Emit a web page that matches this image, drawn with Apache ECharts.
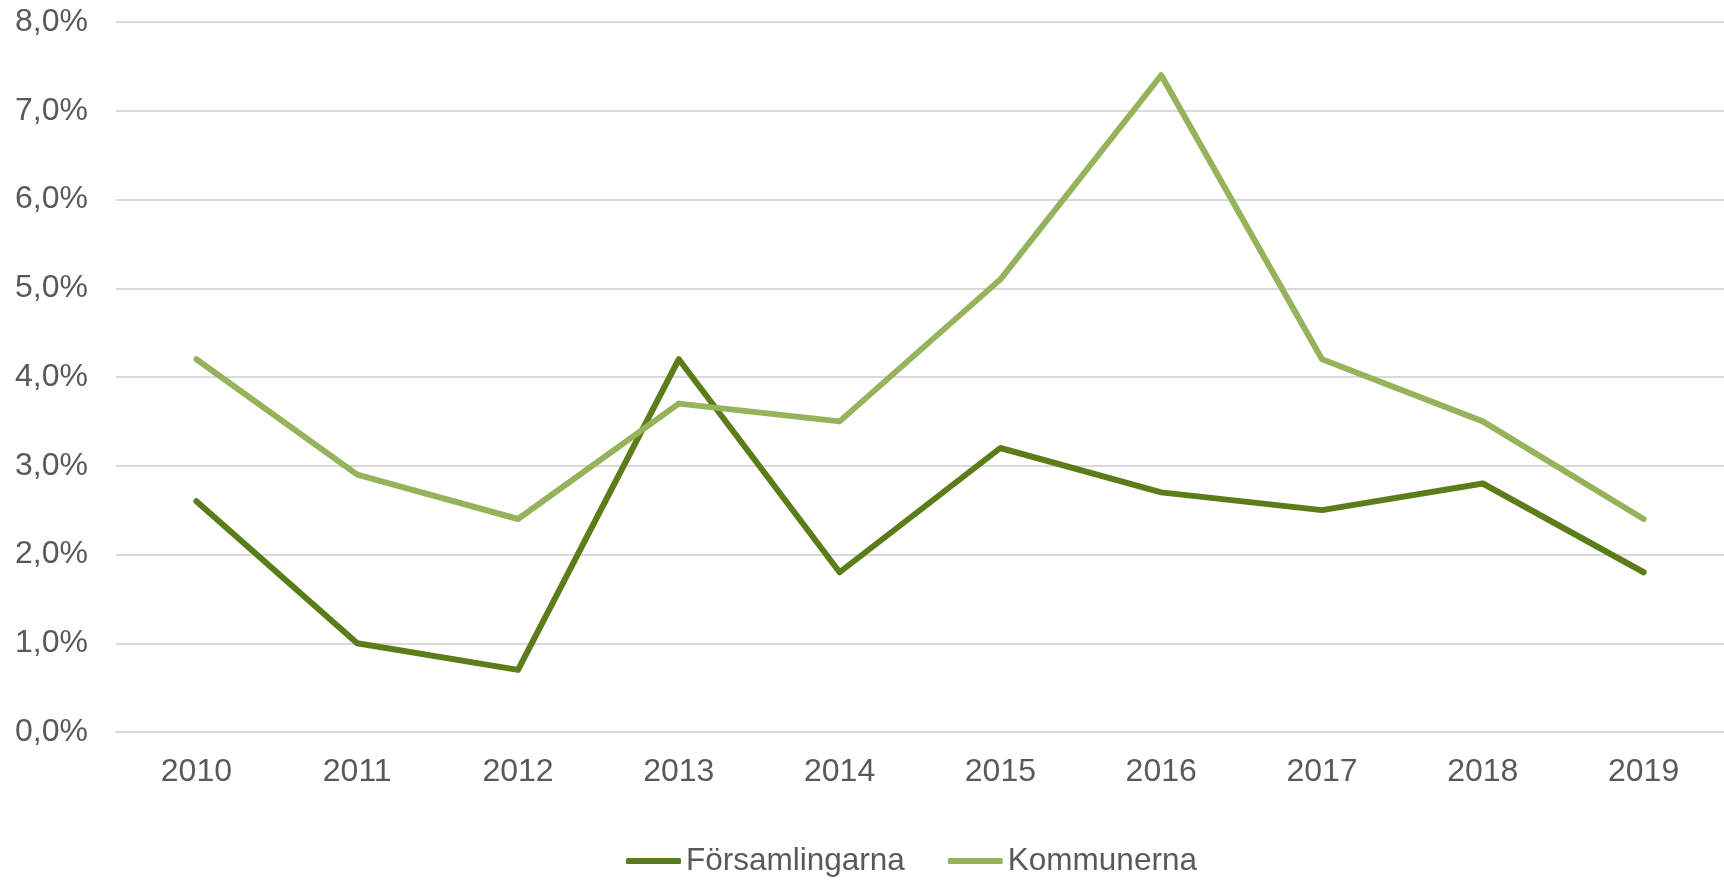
<!DOCTYPE html>
<html>
<head>
<meta charset="utf-8">
<script src="https://cdn.jsdelivr.net/npm/echarts@6/dist/echarts.min.js"></script>
<style>
  html, body { margin: 0; padding: 0; background: #fff; }
  #chart { width: 1724px; height: 881px; }
</style>
</head>
<body>
<div id="chart"></div>
<script>
// years on the x axis
var years = ["2010", "2011", "2012", "2013", "2014", "2015", "2016", "2017", "2018", "2019"];
// percent values
var forsamlingarna = [2.6, 1.0, 0.7, 4.2, 1.8, 3.2, 2.7, 2.5, 2.8, 1.8];
var kommunerna = [4.2, 2.9, 2.4, 3.7, 3.5, 5.1, 7.4, 4.2, 3.5, 2.4];

var chart = echarts.init(document.getElementById("chart"));
var textColor = "#595959";
var font = "Liberation Sans, Arial, sans-serif";

chart.setOption({
  animation: false,
  color: ["#5a7d1a", "#94b35a"],
  grid: {
    left: 116,
    right: -9, // the last category is cut off at the right edge in the original
    top: 22,
    bottom: 149,
    containLabel: false
  },
  legend: {
    top: 840,
    left: 621,
    icon: "roundRect",
    itemWidth: 55,
    itemHeight: 6,
    itemGap: 43,
    data: ["Församlingarna", "Kommunerna"],
    textStyle: {
      color: textColor,
      fontSize: 31.5,
      fontFamily: font
    }
  },
  xAxis: {
    type: "category",
    data: years,
    boundaryGap: true,
    axisTick: { show: false },
    axisLine: {
      lineStyle: { color: "#d9d9d9", width: 2 }
    },
    axisLabel: {
      color: textColor,
      fontSize: 32,
      fontFamily: font,
      margin: 24
    }
  },
  yAxis: {
    type: "value",
    min: 0,
    max: 8,
    interval: 1,
    axisLine: { show: false },
    axisTick: { show: false },
    axisLabel: {
      color: textColor,
      fontSize: 32,
      fontFamily: font,
      margin: 28,
      formatter: function (v) {
        return v.toFixed(1).replace(".", ",") + "%";
      }
    },
    splitLine: {
      lineStyle: { color: "#d9d9d9", width: 2 }
    }
  },
  series: [
    {
      name: "Församlingarna",
      type: "line",
      data: forsamlingarna,
      symbol: "none",
      lineStyle: { width: 6, cap: "round", join: "round" }
    },
    {
      name: "Kommunerna",
      type: "line",
      data: kommunerna,
      symbol: "none",
      lineStyle: { width: 6, cap: "round", join: "round" }
    }
  ]
});
</script>
</body>
</html>
